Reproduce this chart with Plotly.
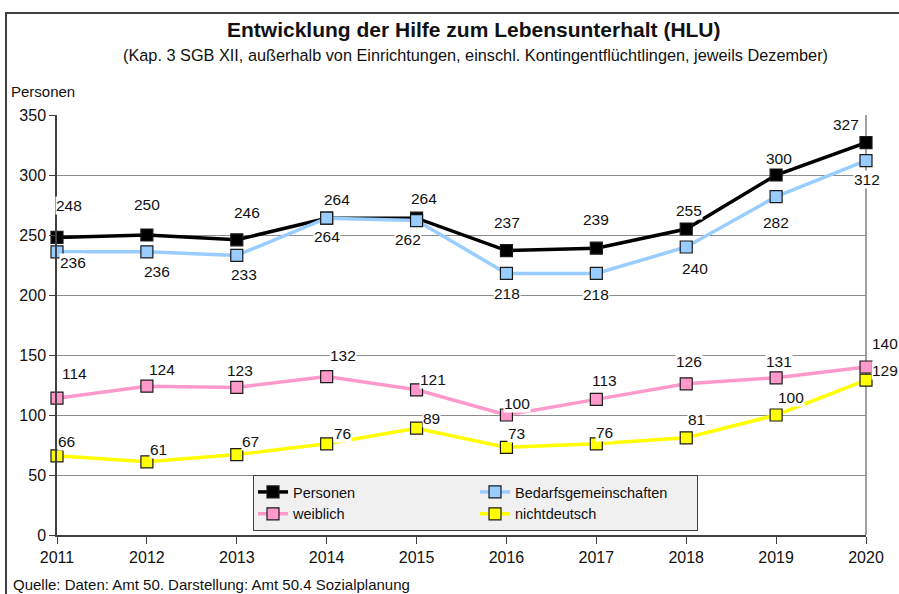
import plotly.graph_objects as go

# Jahresreihe (jeweils Dezember)
years = [2011, 2012, 2013, 2014, 2015, 2016, 2017, 2018, 2019, 2020]
personen = [248, 250, 246, 264, 264, 237, 239, 255, 300, 327]
bedarfsgemeinschaften = [236, 236, 233, 264, 262, 218, 218, 240, 282, 312]
weiblich = [114, 124, 123, 132, 121, 100, 113, 126, 131, 140]
nichtdeutsch = [66, 61, 67, 76, 89, 73, 76, 81, 100, 129]
y_ticks = [0, 50, 100, 150, 200, 250, 300, 350]

FONT = "Liberation Sans Narrow, Arial Narrow, Liberation Sans, Arial, sans-serif"

# pixel geometry of the page
W, H = 899, 594
L, R, T, B = 57, 33, 115, 59
PW, PH = W - L - R, H - T - B


def px(x):
    return (x - L) / PW


def py(y):
    return (H - B - y) / PH


# label offsets (pixels) per series and year
off_personen = [(12, 32), (0, 31), (10, 27), (10, 19), (7, 20), (1, 28), (0, 29), (3, 19), (3, 17), (-20, 18)]
off_bedarf = [(16, -11), (10, -20), (7, -19), (0, -18), (-9, -19), (1, -20), (0, -21), (9, -21), (0, -26), (1, -19)]
off_weiblich = [(17, 25), (15, 17), (3, 17), (16, 21), (16, 10), (11, 12), (8, 19), (3, 22), (3, 16), (19, 24)]
off_nicht = [(9, 14), (12, 12), (14, 13), (16, 10), (15, 10), (10, 14), (8, 11), (10, 18), (15, 18), (19, 10)]

series = [
    ("Personen", personen, "#000000", "#000000", off_personen, "g1"),
    ("Bedarfsgemeinschaften", bedarfsgemeinschaften, "#99CCFF", "#99CCFF", off_bedarf, "g2"),
    ("weiblich", weiblich, "#FF99CC", "#FF99CC", off_weiblich, "g1"),
    ("nichtdeutsch", nichtdeutsch, "#FFFF00", "#FFFF00", off_nicht, "g2"),
]

fig = go.Figure()
annotations = []
for name, vals, lc, mc, offs, grp in series:
    fig.add_trace(go.Scatter(
        x=years, y=vals, name=name, mode="lines+markers",
        legendgroup=grp,
        line=dict(color=lc, width=3.5),
        marker=dict(symbol="square", size=12, color=mc,
                    line=dict(color="#1a1a1a", width=1.2)),
        cliponaxis=False,
    ))
    for x, v, (dx, dy) in zip(years, vals, offs):
        annotations.append(dict(
            x=x, y=v, xref="x", yref="y", text=str(v), showarrow=False,
            xshift=dx, yshift=dy, bgcolor="white", borderpad=0,
            font=dict(family=FONT, size=15.5, color="#111111"),
        ))

# titles and notes
annotations += [
    dict(x=px(474), y=py(29), xref="paper", yref="paper", showarrow=False,
         text="<b>Entwicklung der Hilfe zum Lebensunterhalt (HLU)</b>",
         font=dict(family=FONT, size=21, color="#111111"),
         xanchor="center", yanchor="middle"),
    dict(x=px(475), y=py(55), xref="paper", yref="paper", showarrow=False,
         text="(Kap. 3 SGB XII, außerhalb von Einrichtungen, einschl. Kontingentflüchtlingen, jeweils Dezember)",
         font=dict(family=FONT, size=16.3, color="#111111"),
         xanchor="center", yanchor="middle"),
    dict(x=px(9), y=py(92), xref="paper", yref="paper", showarrow=False,
         text="Personen", font=dict(family=FONT, size=15, color="#111111"),
         xanchor="left", yanchor="middle"),
    dict(x=px(11), y=py(584), xref="paper", yref="paper", showarrow=False,
         text="Quelle: Daten: Amt 50. Darstellung: Amt 50.4 Sozialplanung",
         font=dict(family=FONT, size=15, color="#111111"),
         xanchor="left", yanchor="middle"),
]

shapes = [
    # outer frame
    dict(type="rect", xref="paper", yref="paper",
         x0=px(6), x1=px(910), y0=py(620), y1=py(13),
         line=dict(color="#404040", width=2), layer="below"),
    # right border of plot area
    dict(type="line", xref="paper", yref="paper", x0=1, x1=1, y0=0, y1=1,
         line=dict(color="#808080", width=1.5), layer="below"),
]

fig.update_layout(
    width=W, height=H,
    margin=dict(l=L, r=R, t=T, b=B, pad=0),
    paper_bgcolor="white", plot_bgcolor="white",
    font=dict(family=FONT, size=15, color="#111111"),
    showlegend=True,
    legend=dict(
        orientation="h", traceorder="grouped",
        x=px(253), y=py(475), xanchor="left", yanchor="top",
        bgcolor="#F0F0F0", bordercolor="#404040", borderwidth=1,
        font=dict(family=FONT, size=14.5, color="#111111"),
        itemwidth=30, tracegroupgap=0, entrywidth=177,
    ),
    annotations=annotations,
    shapes=shapes,
    xaxis=dict(
        range=[2011, 2020], tickvals=years, ticktext=[str(y) for y in years],
        showgrid=False, zeroline=False,
        showline=True, linecolor="#404040", linewidth=1.5,
        ticks="outside", ticklen=7, tickcolor="#404040", tickwidth=1.2,
        tickfont=dict(family=FONT, size=16, color="#111111"),
    ),
    yaxis=dict(
        range=[0, 350], tickvals=y_ticks,
        showgrid=True, gridcolor="#8c8c8c", gridwidth=1.2, zeroline=False,
        showline=True, linecolor="#404040", linewidth=1.5,
        ticks="outside", ticklen=6, tickcolor="#404040", tickwidth=1.2,
        tickfont=dict(family=FONT, size=16, color="#111111"),
    ),
)

fig.write_html("out.html")
